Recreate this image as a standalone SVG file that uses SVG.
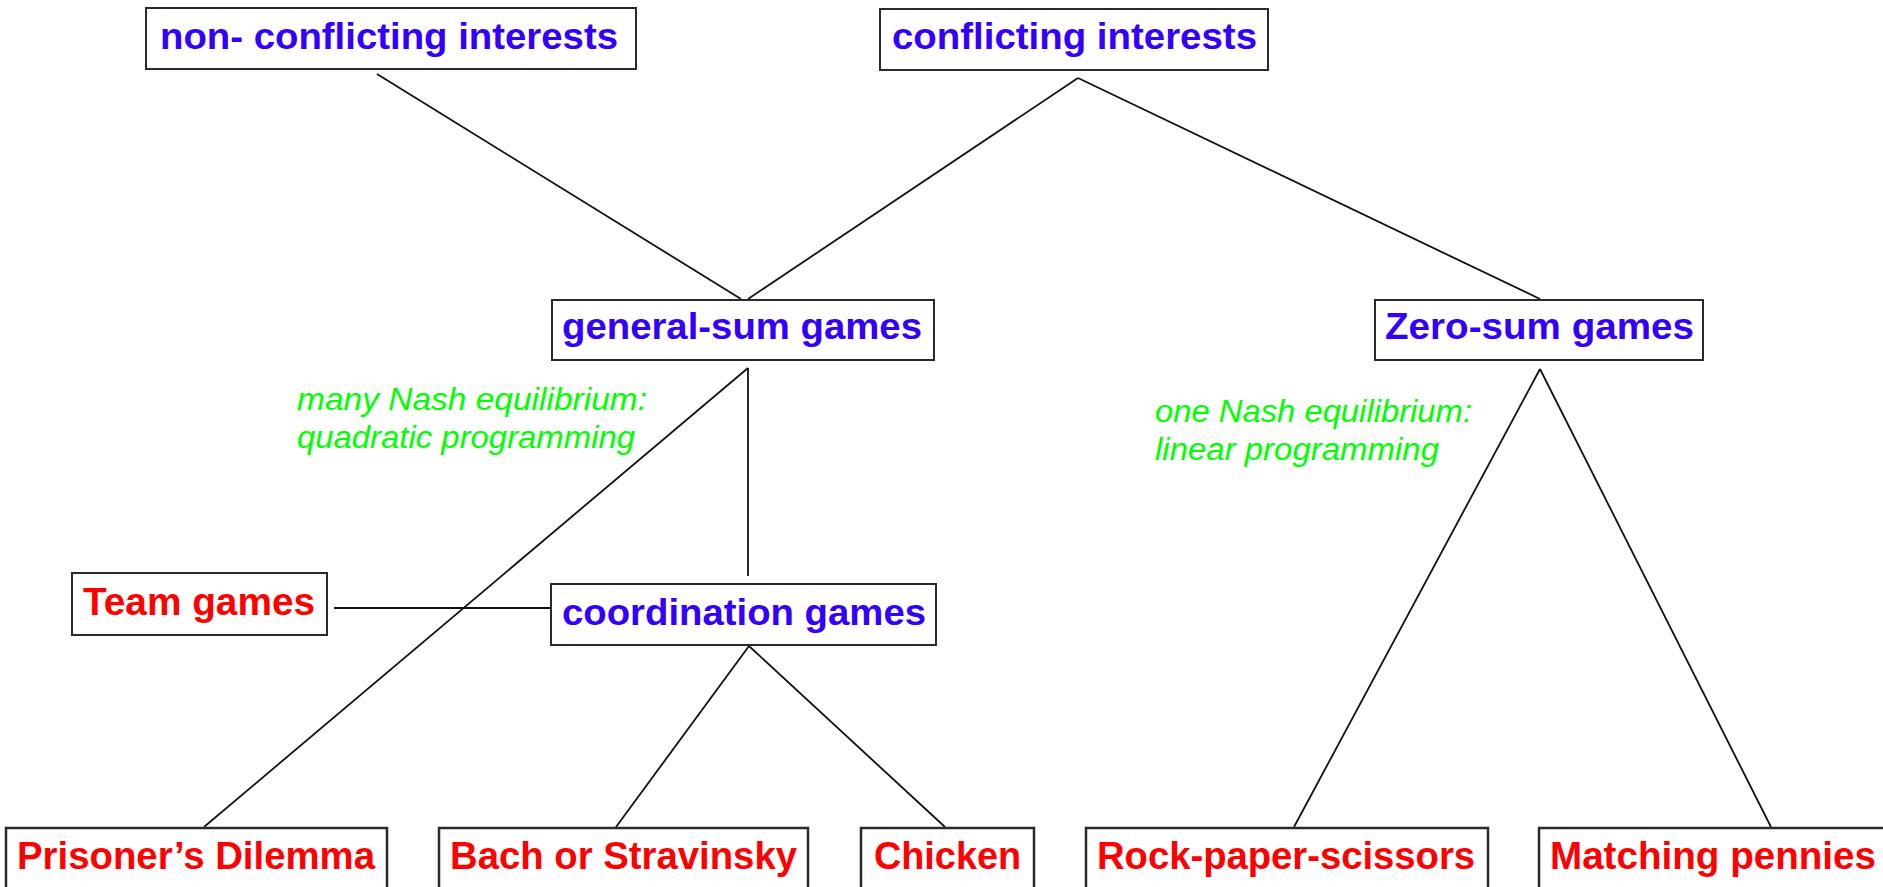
<svg xmlns="http://www.w3.org/2000/svg" width="1883" height="887" viewBox="0 0 1883 887">
  <style>
    .box { fill: #ffffff; stroke: #2a2a2a; stroke-width: 2; }
    .leaf { fill: #ffffff; stroke: #2a2a2a; stroke-width: 2.5; }
    .lbl { font-family: "Liberation Sans", Arial, sans-serif; font-weight: bold; font-size: 36px; }
    .blue { fill: #3300ff; }
    .red { fill: #ff0000; font-size: 38px; }
    .note { font-family: "Liberation Sans", Arial, sans-serif; font-style: italic; font-size: 31px; fill: #00ff00; }
    .link { stroke: #111111; stroke-width: 1.8; fill: none; }
  </style>
  <rect width="1883" height="887" fill="#ffffff"/>

  <!-- tree edges -->
  <g id="connectors">
    <line class="link" x1="377" y1="74" x2="741" y2="299"/>
    <line class="link" x1="1078" y1="78" x2="748" y2="299"/>
    <line class="link" x1="1078" y1="78" x2="1540" y2="299"/>
    <line class="link" x1="748" y1="368" x2="748" y2="576"/>
    <line class="link" x1="748" y1="368" x2="204" y2="827"/>
    <line class="link" x1="334" y1="608" x2="550" y2="608"/>
    <line class="link" x1="749" y1="646" x2="616" y2="827"/>
    <line class="link" x1="749" y1="646" x2="945" y2="827"/>
    <line class="link" x1="1540" y1="369" x2="1294" y2="827"/>
    <line class="link" x1="1540" y1="369" x2="1771" y2="827"/>
  </g>

  <g id="non-conflicting">
    <rect class="box" x="146" y="8" width="490" height="61"/>
    <text class="lbl blue" x="160" y="49" textLength="458" lengthAdjust="spacingAndGlyphs">non- conflicting interests</text>
  </g>
  <g id="conflicting">
    <rect class="box" x="880" y="9" width="388" height="61"/>
    <text class="lbl blue" x="892" y="49" textLength="365" lengthAdjust="spacingAndGlyphs">conflicting interests</text>
  </g>
  <g id="general-sum">
    <rect class="box" x="552" y="300" width="382" height="60"/>
    <text class="lbl blue" x="562" y="339" textLength="360" lengthAdjust="spacingAndGlyphs">general-sum games</text>
  </g>
  <g id="zero-sum">
    <rect class="box" x="1375" y="300" width="328" height="60"/>
    <text class="lbl blue" x="1385" y="339" textLength="309" lengthAdjust="spacingAndGlyphs">Zero-sum games</text>
  </g>
  <g id="note-general">
    <text class="note" x="297" y="410" textLength="350" lengthAdjust="spacingAndGlyphs">many Nash equilibrium:</text>
    <text class="note" x="297" y="448" textLength="338" lengthAdjust="spacingAndGlyphs">quadratic programming</text>
  </g>
  <g id="note-zero">
    <text class="note" x="1155" y="422" textLength="317" lengthAdjust="spacingAndGlyphs">one Nash equilibrium:</text>
    <text class="note" x="1155" y="460" textLength="284" lengthAdjust="spacingAndGlyphs">linear programming</text>
  </g>
  <g id="team">
    <rect class="box" x="72" y="573" width="255" height="62"/>
    <text class="lbl red" x="83" y="615" textLength="232" lengthAdjust="spacingAndGlyphs">Team games</text>
  </g>
  <g id="coordination">
    <rect class="box" x="551" y="584" width="385" height="61"/>
    <text class="lbl blue" x="562" y="625" textLength="364" lengthAdjust="spacingAndGlyphs">coordination games</text>
  </g>
  <g id="prisoners-dilemma">
    <rect class="leaf" x="6" y="828" width="381" height="70"/>
    <text class="lbl red" x="17" y="869" textLength="358" lengthAdjust="spacingAndGlyphs">Prisoner’s Dilemma</text>
  </g>
  <g id="bach-stravinsky">
    <rect class="leaf" x="439" y="828" width="369" height="70"/>
    <text class="lbl red" x="450" y="869" textLength="347" lengthAdjust="spacingAndGlyphs">Bach or Stravinsky</text>
  </g>
  <g id="chicken">
    <rect class="leaf" x="861" y="828" width="173" height="70"/>
    <text class="lbl red" x="874" y="869" textLength="147" lengthAdjust="spacingAndGlyphs">Chicken</text>
  </g>
  <g id="rock-paper-scissors">
    <rect class="leaf" x="1086" y="828" width="402" height="70"/>
    <text class="lbl red" x="1097" y="869" textLength="378" lengthAdjust="spacingAndGlyphs">Rock-paper-scissors</text>
  </g>
  <g id="matching-pennies">
    <rect class="leaf" x="1539" y="828" width="350" height="70"/>
    <text class="lbl red" x="1550" y="869" textLength="326" lengthAdjust="spacingAndGlyphs">Matching pennies</text>
  </g>
</svg>
